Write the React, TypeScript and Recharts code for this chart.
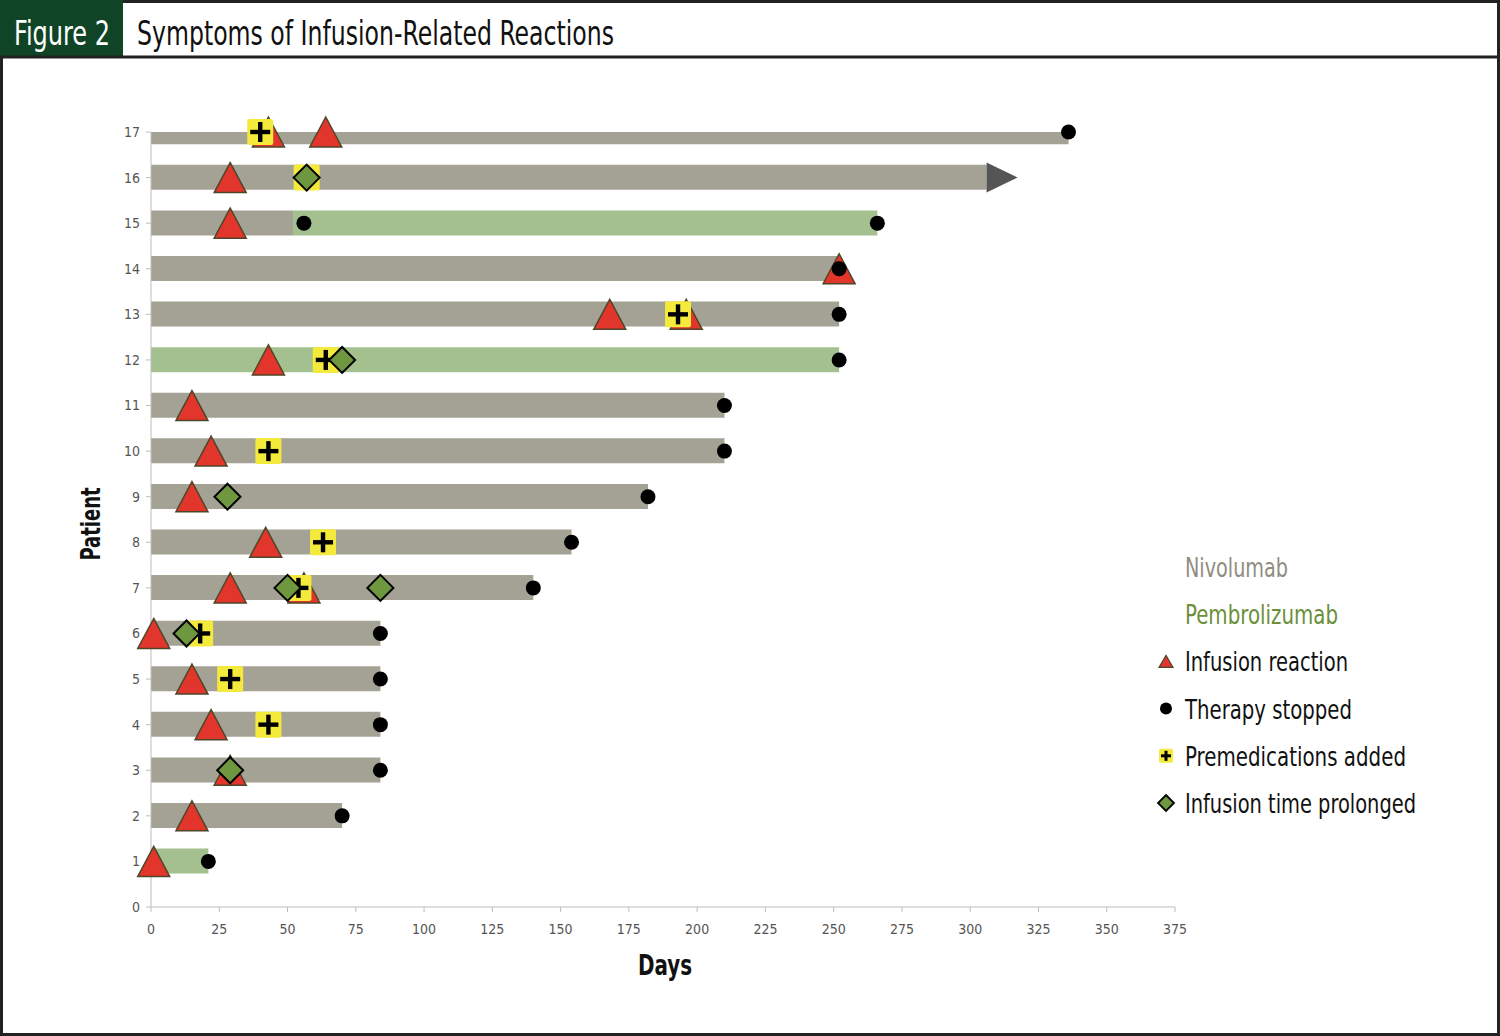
import { Bar, ComposedChart, Scatter, XAxis, YAxis } from "recharts";

// patient rows, bottom (1) to top (17)
const patients = [1, 2, 3, 4, 5, 6, 7, 8, 9, 10, 11, 12, 13, 14, 15, 16, 17];
// days on each drug, per patient
const nivolumab = [0, 70, 84, 84, 84, 84, 140, 154, 182, 210, 210, 0, 252, 252, 52, 306, 336];
const pembrolizumab = [21, 0, 0, 0, 0, 0, 0, 0, 0, 0, 0, 252, 0, 0, 214, 0, 0];

// events as [patient, day]
const reactions = [
  [1, 1], [2, 15], [3, 29], [4, 22], [5, 15], [6, 1], [7, 29], [7, 56], [8, 42],
  [9, 15], [10, 22], [11, 15], [12, 43], [13, 168], [13, 196], [14, 252],
  [15, 29], [16, 29], [17, 43], [17, 64],
];
const stopped = [
  [1, 21], [2, 70], [3, 84], [4, 84], [5, 84], [6, 84], [7, 140], [8, 154],
  [9, 182], [10, 210], [11, 210], [12, 252], [13, 252], [14, 252], [15, 56],
  [15, 266], [17, 336],
];
const premeds = [
  [4, 43], [5, 29], [6, 18], [7, 54], [8, 63], [10, 43], [12, 64], [13, 193],
  [16, 57], [17, 40],
];
const prolonged = [
  [3, 29], [6, 13], [7, 50], [7, 84], [9, 28], [12, 70], [16, 57],
];
const ongoing = [[16, 306]];

const dayTicks = [0, 25, 50, 75, 100, 125, 150, 175, 200, 225, 250, 275, 300, 325, 350, 375];
const patientTicks = [0, ...patients];

const rows = patients.map((p, i) => ({ patient: p, niv: nivolumab[i], pem: pembrolizumab[i] }));
const pts = (list: number[][]) => list.map(([patient, day]) => ({ patient, day }));

const COND = "'Liberation Sans Narrow', 'DejaVu Sans Condensed', 'Arial Narrow', sans-serif";
const GRAY = "#a4a294";
const GREEN = "#a4c08f";
const RED = "#e2352b";
const YELLOW = "#f4ea3c";
const OLIVE = "#6f973f";

const Triangle = ({ cx, cy }: any) => (
  <polygon
    points={`${cx},${cy - 15} ${cx + 16},${cy + 15} ${cx - 16},${cy + 15}`}
    fill={RED}
    stroke="#4e4628"
    strokeWidth={1.5}
  />
);
const Dot = ({ cx, cy }: any) => <circle cx={cx} cy={cy} r={7.5} fill="#000" />;
const Plus = ({ cx, cy }: any) => (
  <g>
    <rect x={cx - 13} y={cy - 13} width={26} height={26} rx={2} fill={YELLOW} />
    <rect x={cx - 10} y={cy - 2.2} width={20} height={4.4} fill="#000" />
    <rect x={cx - 2.2} y={cy - 10} width={4.4} height={20} fill="#000" />
  </g>
);
const Diamond = ({ cx, cy }: any) => (
  <polygon
    points={`${cx},${cy - 13} ${cx + 13},${cy} ${cx},${cy + 13} ${cx - 13},${cy}`}
    fill={OLIVE}
    stroke="#000"
    strokeWidth={2}
  />
);
const Arrow = ({ cx, cy }: any) => (
  <polygon points={`${cx},${cy - 15} ${cx + 31},${cy} ${cx},${cy + 15}`} fill="#555555" />
);

const legendItems = [
  { label: "Nivolumab", color: "#8f8d80", icon: null, len: 103 },
  { label: "Pembrolizumab", color: "#6b8f3a", icon: null, len: 153 },
  { label: "Infusion reaction", color: "#111", icon: "tri", len: 163 },
  { label: "Therapy stopped", color: "#111", icon: "dot", len: 167 },
  { label: "Premedications added", color: "#111", icon: "plus", len: 221 },
  { label: "Infusion time prolonged", color: "#111", icon: "dia", len: 231 },
];

function LegendIcon({ kind, x, y }: { kind: string | null; x: number; y: number }) {
  if (kind === "tri")
    return (
      <polygon
        points={`${x},${y - 6} ${x + 7},${y + 6} ${x - 7},${y + 6}`}
        fill={RED}
        stroke="#4e4628"
        strokeWidth={1.2}
      />
    );
  if (kind === "dot") return <circle cx={x} cy={y} r={6} fill="#000" />;
  if (kind === "plus")
    return (
      <g>
        <rect x={x - 7} y={y - 7} width={14} height={14} rx={2} fill={YELLOW} />
        <rect x={x - 5} y={y - 1.5} width={10} height={3} fill="#000" />
        <rect x={x - 1.5} y={y - 5} width={3} height={10} fill="#000" />
      </g>
    );
  if (kind === "dia")
    return (
      <polygon
        points={`${x},${y - 8} ${x + 8},${y} ${x},${y + 8} ${x - 8},${y}`}
        fill={OLIVE}
        stroke="#000"
        strokeWidth={1.8}
      />
    );
  return null;
}

export default function App() {
  return (
    <div style={{ position: "absolute", left: 0, top: 0, width: 1500, height: 1036, background: "#fff" }}>
      <ComposedChart
        width={1500}
        height={1036}
        layout="vertical"
        data={rows}
        margin={{ top: 132, right: 325, bottom: 99, left: 111 }}
      >
        <XAxis
          type="number"
          domain={[0, 375]}
          ticks={dayTicks}
          interval={0}
          height={30}
          tickSize={5}
          tickMargin={12}
          stroke="#bdbdbd"
          tick={{ fontSize: 14, fill: "#555", fontFamily: COND }}
        />
        <YAxis
          yAxisId="bars"
          type="number"
          dataKey="patient"
          domain={[0, 17]}
          allowDataOverflow
          reversed
          hide
          width={0}
        />
        <YAxis
          yAxisId="pt"
          type="number"
          dataKey="patient"
          domain={[0, 17]}
          ticks={patientTicks}
          interval={0}
          reversed
          width={40}
          tickSize={5}
          tickMargin={6}
          stroke="#bdbdbd"
          tick={{ fontSize: 14, fill: "#555", fontFamily: COND }}
        />
        <Bar yAxisId="bars" dataKey="niv" stackId="a" fill={GRAY} barSize={25} isAnimationActive={false} />
        <Bar yAxisId="bars" dataKey="pem" stackId="a" fill={GREEN} barSize={25} isAnimationActive={false} />
        <Scatter yAxisId="pt" data={pts(ongoing)} dataKey="day" shape={Arrow} isAnimationActive={false} />
        <Scatter yAxisId="pt" data={pts(reactions)} dataKey="day" shape={Triangle} isAnimationActive={false} />
        <Scatter yAxisId="pt" data={pts(premeds)} dataKey="day" shape={Plus} isAnimationActive={false} />
        <Scatter yAxisId="pt" data={pts(prolonged)} dataKey="day" shape={Diamond} isAnimationActive={false} />
        <Scatter yAxisId="pt" data={pts(stopped)} dataKey="day" shape={Dot} isAnimationActive={false} />
      </ComposedChart>

      <svg
        width={1500}
        height={1036}
        style={{ position: "absolute", left: 0, top: 0, pointerEvents: "none" }}
      >
        <rect x={1.5} y={1.5} width={1497} height={1033} fill="none" stroke="#222" strokeWidth={3} />
        <rect x={0} y={0} width={123} height={57} fill="#0f4526" />
        <line x1={0} y1={57} x2={1500} y2={57} stroke="#222" strokeWidth={3} />
        <text x={14} y={45} fontSize={34} fill="#fff" fontFamily={COND} textLength={96} lengthAdjust="spacingAndGlyphs">
          Figure 2
        </text>
        <text x={137} y={45} fontSize={34} fill="#111" fontFamily={COND} textLength={477} lengthAdjust="spacingAndGlyphs">
          Symptoms of Infusion-Related Reactions
        </text>

        <text
          x={665}
          y={975}
          textAnchor="middle"
          fontSize={28}
          fontWeight="bold"
          fill="#111"
          fontFamily={COND}
          textLength={54}
          lengthAdjust="spacingAndGlyphs"
        >
          Days
        </text>
        <text
          transform="translate(100 524) rotate(-90)"
          textAnchor="middle"
          fontSize={26}
          fontWeight="bold"
          fill="#111"
          fontFamily={COND}
          textLength={73}
          lengthAdjust="spacingAndGlyphs"
        >
          Patient
        </text>

        {legendItems.map((it, i) => {
          const y = 567 + i * 47.2;
          return (
            <g key={it.label}>
              <LegendIcon kind={it.icon} x={1166} y={y} />
              <text
                x={1185}
                y={y + 10}
                fontSize={27}
                fill={it.color}
                fontFamily={COND}
                textLength={it.len}
                lengthAdjust="spacingAndGlyphs"
              >
                {it.label}
              </text>
            </g>
          );
        })}
      </svg>
    </div>
  );
}
